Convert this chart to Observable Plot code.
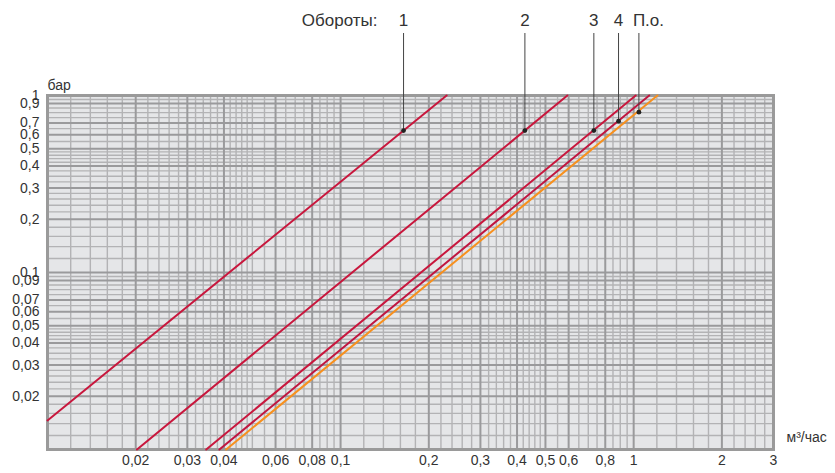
<!DOCTYPE html>
<html><head><meta charset="utf-8">
<script src="https://cdn.jsdelivr.net/npm/d3@7"></script>
<script src="https://cdn.jsdelivr.net/npm/@observablehq/plot@0.6"></script>
<style>
body{margin:0;background:#fff;font-family:Arial,"Liberation Sans",sans-serif}
#chart svg{display:block}
</style>
</head><body><div id="chart"></div>
<script>
// ---- data ----
const seriesNames  = ["1", "2", "3", "4", "П.о."];
const flowStart    = [0.01, 0.0202, 0.0348, 0.0386, 0.0407];
const pressStart   = [0.0146, 0.01, 0.01, 0.01, 0.01];
const flowEnd      = [0.23, 0.594, 1.016, 1.13, 1.205];
const pressEnd     = [1, 1, 1, 1, 1];
const seriesColors = ["#c8173d", "#c8173d", "#c8173d", "#c0163f", "#f7901e"];
const markerFlow   = [0.164, 0.4255, 0.7314, 0.888, 1.042];
const markerPress  = [0.634, 0.634, 0.634, 0.716, 0.805];
const labelLevel   = 2.65;   // label row, in bar (above the frame)
const leaderTop    = 2.24;   // top end of leader lines, in bar

const xTicks = [0.02, 0.03, 0.04, 0.06, 0.08, 0.1, 0.2, 0.3, 0.4, 0.5, 0.6, 0.8, 1, 2, 3];
const yTicks = [1, 0.9, 0.7, 0.6, 0.5, 0.4, 0.3, 0.2, 0.1, 0.09, 0.07, 0.06, 0.05, 0.04, 0.03, 0.02];
const gridDecades = [0.01, 0.1, 1];
const xGridMantissa = [1, 1.2, 1.4, 1.6, 1.8, 2, 2.2, 2.4, 2.6, 2.8, 3, 3.2, 3.4, 3.6, 3.8, 4, 4.2, 4.4, 4.6, 4.8, 5, 5.5, 6, 6.5, 7, 7.5, 8, 8.5, 9, 9.5];
const yGridMantissa = [1, 1.2, 1.4, 1.6, 1.8, 2, 2.2, 2.4, 2.6, 2.8, 3, 3.25, 3.5, 3.75, 4, 4.2, 4.4, 4.6, 4.8, 5, 5.5, 6, 6.5, 7, 7.5, 8, 8.5, 9, 9.5];
const xDomain = [0.01, 3];
const yDomain = [0.01, 1];

// ---- tables built from the arrays ----
const lines = seriesNames.flatMap((name, i) => [
  {name, flow: flowStart[i], press: pressStart[i]},
  {name, flow: flowEnd[i], press: pressEnd[i]}
]);
const markers = seriesNames.map((name, i) => ({name, flow: markerFlow[i], press: markerPress[i]}));
const xGrid = gridDecades.flatMap(d => xGridMantissa.map(m => +(m * d).toPrecision(6))).filter(v => v >= xDomain[0] && v <= xDomain[1]);
const yGrid = gridDecades.flatMap(d => yGridMantissa.map(m => +(m * d).toPrecision(6))).filter(v => v >= yDomain[0] && v <= yDomain[1]);
const xMinor = xGrid.filter(v => !xTicks.includes(v));
const yMinor = yGrid.filter(v => !yTicks.includes(v));
const fmt = d => String(d).replace(".", ",");

const chart = Plot.plot({
  width: 835,
  height: 473,
  marginLeft: 47,
  marginRight: 62,
  marginTop: 95,
  marginBottom: 24,
  style: {fontFamily: "Arial, 'Liberation Sans', sans-serif", fontSize: "14px", color: "#333", background: "#fff"},
  x: {type: "log", domain: xDomain, axis: null},
  y: {type: "log", domain: yDomain, axis: null},
  color: {domain: seriesNames, range: seriesColors},
  marks: [
    Plot.frame({fill: "#e5e6e8", stroke: "none"}),
    Plot.ruleX(xMinor, {stroke: "#b3b3b5", strokeWidth: 1.4}),
    Plot.ruleY(yMinor, {stroke: "#b3b3b5", strokeWidth: 1.4}),
    Plot.ruleX(xTicks, {stroke: "#9a9a9c", strokeWidth: 2}),
    Plot.ruleY(yTicks, {stroke: "#9a9a9c", strokeWidth: 2}),
    Plot.frame({stroke: "#9a9a9a", strokeWidth: 3}),
    Plot.text(xTicks, {x: d => d, frameAnchor: "bottom", dy: 15, text: fmt, fontSize: 14, fill: "#333"}),
    Plot.text(yTicks, {y: d => d, frameAnchor: "left", dx: -8, textAnchor: "end", text: fmt, fontSize: 14, fill: "#333"}),
    Plot.line(lines, {x: "flow", y: "press", z: "name", stroke: "name", strokeWidth: 2}),
    Plot.ruleX(markers, {x: "flow", y1: "press", y2: () => leaderTop, stroke: "#444", strokeWidth: 1}),
    Plot.dot(markers, {x: "flow", y: "press", r: 2.4, fill: "#222", stroke: "none"}),
    Plot.text(markers.slice(0, 4), {x: "flow", y: () => labelLevel, text: "name", fontSize: 17, fill: "#333"}),
    Plot.text(markers.slice(4), {x: "flow", y: () => labelLevel, text: "name", fontSize: 17, fill: "#333", textAnchor: "start", dx: -6}),
    Plot.text(markers.slice(0, 1), {x: "flow", y: () => labelLevel, text: () => "Обороты:", fontSize: 17, fill: "#333", textAnchor: "end", dx: -26}),
    Plot.text(["бар"], {frameAnchor: "top-left", text: d => d, dy: -15, textAnchor: "start", fontSize: 14, fill: "#333"}),
    Plot.text(["м³/час"], {frameAnchor: "bottom-right", text: d => d, dx: 13, dy: -8, textAnchor: "start", fontSize: 14, fill: "#333"})
  ]
});
document.getElementById("chart").append(chart);
</script>
</body></html>
